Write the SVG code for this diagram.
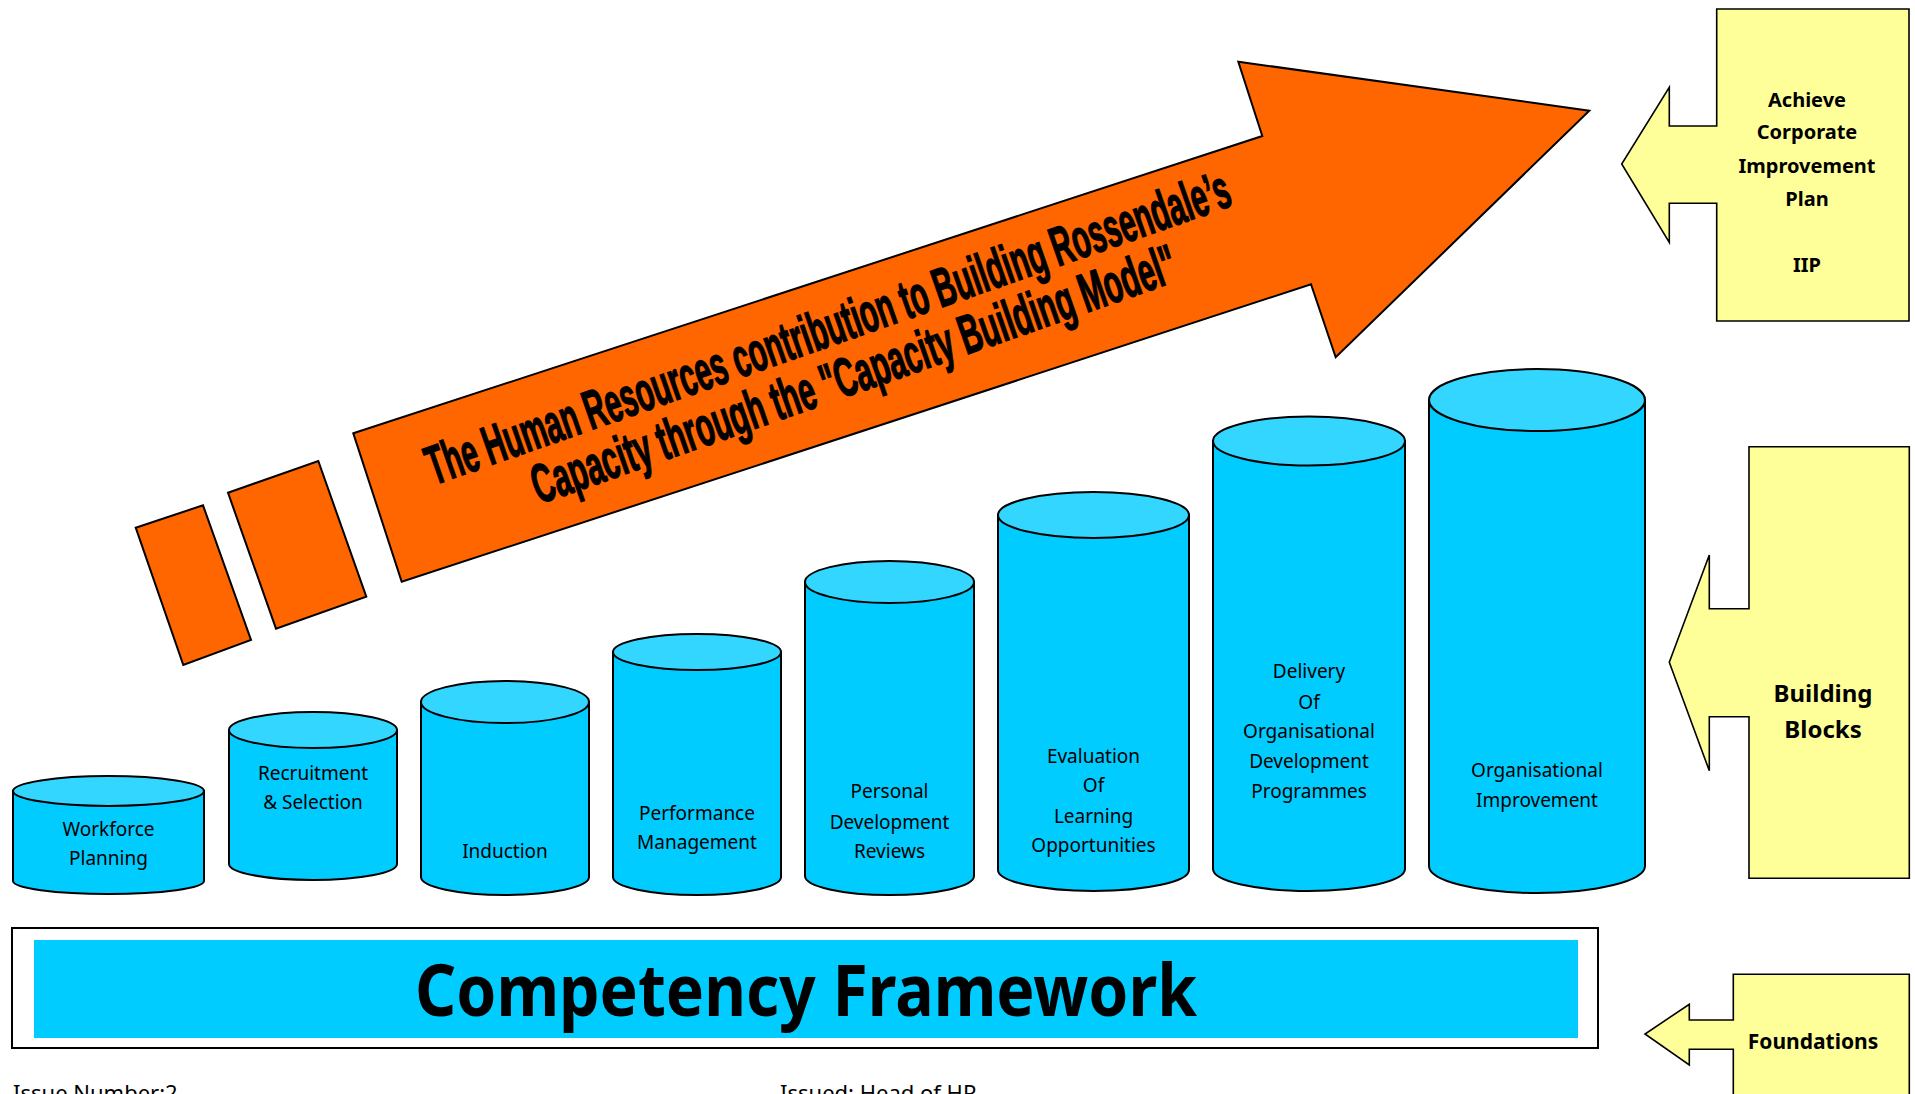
<svg xmlns="http://www.w3.org/2000/svg" width="1915" height="1094" viewBox="0 0 1915 1094">
<style>
.cyl path{fill:#00CCFF;stroke:#000;stroke-width:2}
.cyl ellipse{fill:#33D6FF;stroke:#000;stroke-width:2}
.lbl{font-family:"Noto Sans",sans-serif;font-size:19px;fill:#000;text-anchor:middle}
.call{fill:#FFFF99;stroke:#000;stroke-width:1.6}
.ctext{font-family:"Noto Sans",sans-serif;font-weight:bold;fill:#000;text-anchor:middle}
.orange{fill:#FF6600;stroke:#000;stroke-width:2}
.wa{font-family:"Liberation Sans",Arial,sans-serif;font-weight:bold;font-size:55px;fill:#000;stroke:#000;stroke-width:1.4;text-anchor:middle}
.foot{font-family:"Noto Sans",sans-serif;font-size:22px;fill:#000}
</style>
<rect width="1915" height="1094" fill="#fff"/>

<g id="main-arrow">
<polygon class="orange" points="135.7,527.7 203,505.3 251,640 183.3,665"/>
<polygon class="orange" points="228,492.7 318.3,461 366.3,596.7 276,628.7"/>
<polygon class="orange" points="353.3,433.3 1262.3,136 1238.3,61.7 1589.3,110.7 1335.7,357.3 1311,284.3 401.7,581.7"/>
<text class="wa" transform="translate(834,345) rotate(-19.3)" textLength="848" lengthAdjust="spacingAndGlyphs">The Human Resources contribution to Building Rossendale’s</text>
<text class="wa" transform="translate(860,392) rotate(-19.3)" textLength="680" lengthAdjust="spacingAndGlyphs">Capacity through the "Capacity Building Model"</text>
</g>

<g id="cyl-workforce" class="cyl">
<path d="M13,791 L13,881 A95.5,13 0 0 0 204,881 L204,791 Z"/>
<ellipse cx="108.5" cy="791" rx="95.5" ry="15"/>
<text class="lbl" x="108.5" y="835.5">Workforce</text>
<text class="lbl" x="108.5" y="865">Planning</text>
</g>
<g id="cyl-recruitment" class="cyl">
<path d="M229,730 L229,864 A84,16 0 0 0 397,864 L397,730 Z"/>
<ellipse cx="313" cy="730" rx="84" ry="18"/>
<text class="lbl" x="313" y="779.5">Recruitment</text>
<text class="lbl" x="313" y="808.5">&amp; Selection</text>
</g>
<g id="cyl-induction" class="cyl">
<path d="M421,702 L421,877 A84,18 0 0 0 589,877 L589,702 Z"/>
<ellipse cx="505" cy="702" rx="84" ry="21"/>
<text class="lbl" x="505" y="857.5">Induction</text>
</g>
<g id="cyl-performance" class="cyl">
<path d="M613,652 L613,877 A84,18 0 0 0 781,877 L781,652 Z"/>
<ellipse cx="697" cy="652" rx="84" ry="18"/>
<text class="lbl" x="697" y="819.5">Performance</text>
<text class="lbl" x="697" y="849">Management</text>
</g>
<g id="cyl-pdr" class="cyl">
<path d="M805,582 L805,876 A84.5,19 0 0 0 974,876 L974,582 Z"/>
<ellipse cx="889.5" cy="582" rx="84.5" ry="21"/>
<text class="lbl" x="889.5" y="798">Personal</text>
<text class="lbl" x="889.5" y="828.5">Development</text>
<text class="lbl" x="889.5" y="857.5">Reviews</text>
</g>
<g id="cyl-evaluation" class="cyl">
<path d="M998,515 L998,870 A95.5,21 0 0 0 1189,870 L1189,515 Z"/>
<ellipse cx="1093.5" cy="515" rx="95.5" ry="23"/>
<text class="lbl" x="1093.5" y="762.5">Evaluation</text>
<text class="lbl" x="1093.5" y="791.5">Of</text>
<text class="lbl" x="1093.5" y="822.5">Learning</text>
<text class="lbl" x="1093.5" y="851.5">Opportunities</text>
</g>
<g id="cyl-delivery" class="cyl">
<path d="M1213,441 L1213,869 A96,22 0 0 0 1405,869 L1405,441 Z"/>
<ellipse cx="1309" cy="441" rx="96" ry="24.5"/>
<text class="lbl" x="1309" y="678">Delivery</text>
<text class="lbl" x="1309" y="708.5">Of</text>
<text class="lbl" x="1309" y="738">Organisational</text>
<text class="lbl" x="1309" y="767.5">Development</text>
<text class="lbl" x="1309" y="798">Programmes</text>
</g>
<g id="cyl-improvement" class="cyl">
<path d="M1429,400 L1429,866 A108,27 0 0 0 1645,866 L1645,400 Z"/>
<ellipse cx="1537" cy="400" rx="108" ry="31"/>
<text class="lbl" x="1537" y="777">Organisational</text>
<text class="lbl" x="1537" y="806.5">Improvement</text>
</g>

<g id="competency-framework">
<rect x="12" y="928" width="1586" height="120" fill="#fff" stroke="#000" stroke-width="2"/>
<rect x="34" y="940" width="1544" height="98" fill="#00CCFF"/>
<text x="806" y="1016" font-family="Noto Sans,sans-serif" font-weight="bold" font-size="72" text-anchor="middle" textLength="782" lengthAdjust="spacingAndGlyphs">Competency Framework</text>
</g>

<g id="callout-achieve">
<polygon class="call" points="1716.7,9 1909,9 1909,321 1716.7,321 1716.7,203.3 1669.3,203.3 1669.3,242.3 1621.7,164 1669.3,87.3 1669.3,126 1716.7,126"/>
<text class="ctext" font-size="20" x="1807" y="107">Achieve</text>
<text class="ctext" font-size="20" x="1807" y="139">Corporate</text>
<text class="ctext" font-size="20" x="1807" y="173">Improvement</text>
<text class="ctext" font-size="20" x="1807" y="206">Plan</text>
<text class="ctext" font-size="20" x="1807" y="272">IIP</text>
</g>
<g id="callout-building">
<polygon class="call" points="1749,446.7 1909.3,446.7 1909.3,878.3 1749,878.3 1749,716.7 1709.3,716.7 1709.3,770.7 1669.3,662.3 1709.3,555 1709.3,608.7 1749,608.7"/>
<text class="ctext" font-size="24" x="1823" y="702">Building</text>
<text class="ctext" font-size="24" x="1823" y="738">Blocks</text>
</g>
<g id="callout-foundations">
<polygon class="call" points="1733.3,974.3 1909.3,974.3 1909.3,1100 1733.3,1100 1733.3,1049.3 1689.3,1049.3 1689.3,1065 1645,1034 1689.3,1004.3 1689.3,1020 1733.3,1020"/>
<text class="ctext" font-size="21" x="1813" y="1049">Foundations</text>
</g>

<g id="footer">
<text class="foot" x="13" y="1101">Issue Number:2</text>
<text class="foot" x="780" y="1101">Issued: Head of HR</text>
</g>
<g id="connectors"></g>
</svg>
